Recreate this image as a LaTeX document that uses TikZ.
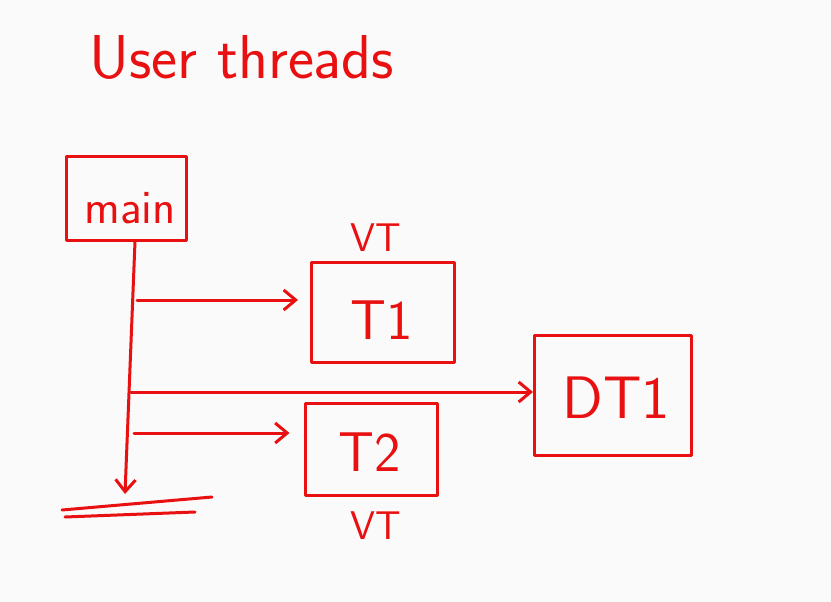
\documentclass[tikz,border=0pt]{standalone}
\usetikzlibrary{arrows.meta}
\definecolor{pen}{RGB}{232,16,16}
\tikzset{
  ink/.style={draw=pen,line width=3pt,line cap=round,line join=round},
  threadbox/.style={ink,rectangle,inner sep=0pt},
  handtext/.style={text=pen,font=\sffamily\fontsize{#1}{#1}\selectfont,inner sep=0pt},
  spawn/.style={ink,-{Straight Barb[length=12pt,width=20pt,line width=3pt]}}
}
\begin{document}
\begin{tikzpicture}[x=1pt,y=-1pt]
	\useasboundingbox[fill=white!98!black] (0,0) rectangle (831,602);
	\node[handtext=62] (title) at (242,57) {User threads};
	\node[threadbox,minimum width=120,minimum height=84] (main) at (126,198) {};
	\node[handtext=48] (mainlabel) at (130,208) {main};
	\node[threadbox,minimum width=143,minimum height=100] (t1) at (383,312) {};
	\node[handtext=56] (t1label) at (382,320) {T1};
	\node[handtext=40] (vt1) at (376,238) {VT};
	\node[threadbox,minimum width=132,minimum height=92] (t2) at (371,449) {};
	\node[handtext=56] (t2label) at (370,452) {T2};
	\node[handtext=40] (vt2) at (376,526) {VT};
	\node[threadbox,minimum width=157,minimum height=120] (dt1) at (613,395) {};
	\node[handtext=60] (dt1label) at (616,398) {DT1};
	\coordinate (end) at (125,494);
	\coordinate (b1) at (137,300);
	\coordinate (b2) at (131,392);
	\coordinate (b3) at (134,433);
	\draw[spawn] (main.south) ++(9,0) -- (end);
	\draw[spawn,shorten >=12pt] (b1) -- (t1.west |- b1);
	\draw[spawn] (b2) -- (dt1.west |- b2);
	\draw[spawn,shorten >=14pt] (b3) -- (t2.west |- b3);
	\draw[ink] (62,510) -- (212,497);
	\draw[ink] (65,517) -- (195,512);
\end{tikzpicture}
\end{document}
